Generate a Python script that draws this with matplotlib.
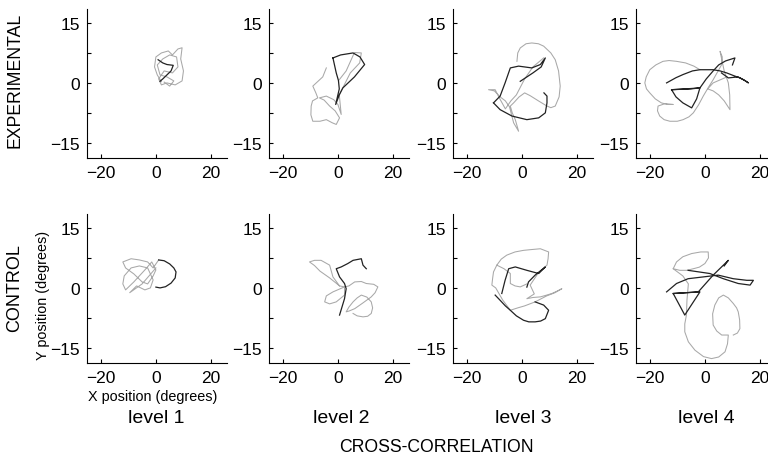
import numpy as np
import matplotlib
matplotlib.use("Agg")
import matplotlib.pyplot as plt

plt.rcParams['font.family'] = ['Liberation Sans', 'DejaVu Sans']

# eye traces (x, y in degrees)
e1_light = [(2, 0.3), (0.5, 2), (-0.5, 4), (0, 6.5), (2, 7.5), (4.5, 8), (6, 7), (8, 8.5),
            (9.5, 8.8), (9, 6), (10, 3), (9.5, 0.5), (7, -0.5), (4, 0), (2, -0.5), (1, 1),
            (3, 3), (6, 2.5), (8, 4), (7.5, 6.5), (5, 7), (2.5, 6), (0.5, 4.5), (1.5, 2),
            (4, 1.5), (6.5, 0.5), (5, -0.8), (3, 0.2)]
e1_dark = [(0.8, 5.8), (2.5, 5), (4, 4.6), (6.3, 4.4), (5.5, 3), (4, 2), (2.5, 1), (1.5, 0.4)]

e2_light = [(-4.2, 3.75), (-5.5, 1.5), (-9.1, -0.8), (-8, -2.5), (-7.3, -3.75), (-9.2, -4.5),
            (-9.7, -5.8), (-9.8, -8), (-9.1, -9.6), (-6.5, -9.6), (-4.2, -9.2), (-2, -10),
            (-0.6, -10.4), (0.6, -8.75), (-1, -7), (-3, -5.8), (-5, -4.3), (-6.7, -3.75),
            (-4.2, -3.3), (-1.5, -4.2), (0, -5.4), (1.2, -7.9), (0.5, -3), (1.8, -1.2),
            (4.5, 2.5), (7.9, 5), (8.5, 7.5), (6, 7.6), (3, 3), (0.5, 0.8)]
e2_dark = [(-1.8, 6.25), (1, 7), (5.5, 7.5), (8, 6.5), (9.7, 4.6), (6, 1.5), (1.8, -1.25),
           (0.5, -3), (-0.8, -5.4), (0.5, -1.5), (0.2, 0.6), (-0.6, 2.5), (-1.8, 6.25)]

e3_light = [(-1.8, 5.4), (-1.5, 7.5), (-0.6, 8.75), (1.5, 9.8), (3.6, 10), (6, 9.8), (7.9, 9.2),
            (10.5, 7.5), (12.1, 5.8), (13.3, 3), (13.9, -0.8), (13.5, -3.5), (12.1, -5.8),
            (10.5, -6.2), (9.1, -5.8), (6, -4.5), (3, -3.2), (1, -2.5), (-1, -3.5), (-3, -5),
            (-4.2, -5.8), (-3.5, -7.5), (-2.4, -9.2), (-1.2, -12.1), (-3, -10), (-4.5, -6),
            (-6, -4.5), (-7.9, -3.5), (-10, -2), (-12.1, -1.7), (-9.7, -1.7), (-8, -4),
            (-6, -6.5), (-4, -4.5), (-2, -3), (1, 1), (4, 4), (7.9, 6.25)]
e3_dark = [(-10.3, -5), (-7.9, -3.3), (-6.1, 0), (-4.2, 3.75), (-1.2, 4.2), (3.6, 3.75),
           (6.7, 4.6), (8.5, 6.25), (7, 4), (4, 2.5), (-0.6, 0.4)]
e3_dark2 = [(-10.3, -5), (-7.9, -6.7), (-3.6, -8.3), (1.8, -9.2), (6.1, -8.75), (8.5, -7.5),
            (9.1, -5), (9.1, -3.3), (8, -2.5)]

e4_light = [(-1.8, 3.3), (-4, 4.2), (-7, 5), (-10.3, 5.4), (-13, 5.6), (-15.2, 5.4),
            (-17.8, 4.5), (-20, 3.3), (-21.3, 1.5), (-21.8, 0), (-21.2, -1.5), (-20, -2.5),
            (-18, -4), (-15.8, -5), (-13.5, -5.4), (-11.5, -5.4), (-14.5, -5.2), (-17, -5.8),
            (-17.2, -7), (-16.4, -8.3), (-14.8, -9.2), (-12.7, -9.6), (-10, -9.6), (-7.9, -9.2),
            (-5.8, -8.5), (-4.2, -7.5), (-2.3, -5.5), (-0.6, -3.3), (1.2, -1.2), (3, 0.8),
            (4.8, 3), (6.1, 4.6), (6.3, 6.5), (5.5, 7.9), (7, 3), (8.5, 0), (9, -3),
            (9.1, -6.7), (7, -4.5), (5, -3), (3, -2), (1, -1.5), (3, 0), (8, 1.5)]
e4_dark = [(-13.9, 0), (-10.5, 1.3), (-7.9, 2.1), (-4.5, 3), (-1.8, 3.3), (3, 3.3), (5.5, 3),
           (7.9, 2.5), (10.5, 1.8), (12.7, 1.25), (14.5, 0.6), (15.8, 0), (14, 0.8), (12, 1.5),
           (8.5, 1.25), (6, 2.5)]
e4_dark2 = [(-12.1, -1.7), (-7, -1.5), (-1.8, -1.25), (-3, -4), (-4.8, -6.25), (-8, -5),
            (-10.5, -3.5), (-12.1, -1.7), (-5, -1.5), (-1.8, -1.25), (0.5, 1), (3, 3),
            (5, 4.5), (7.5, 5.5), (10.9, 6.25), (10, 4.5)]

c1_light = [(1, 7), (-1, 5), (-3, 6.5), (-6, 7), (-9, 7.3), (-12, 6.5), (-11, 5), (-8, 3.5),
            (-5, 1.5), (-3, 1), (-1, 3), (0, 4.5), (-1.5, 6.5), (-4, 4.5), (-8, 1.5),
            (-11, -0.5), (-12, 1), (-11.5, 3), (-9, 5), (-6, 5.5), (-3, 5), (-1, 2),
            (-2, 0), (-4, -0.5), (-7, 0.5), (-9.5, -1.2), (-5, 1), (0, 5)]
c1_dark = [(1, 7), (3, 6.8), (5, 6), (6.5, 5), (7.3, 4), (7, 2.5), (5.5, 1.2), (3.5, 0.3),
           (1.5, 0), (0, 0.2)]

c2_light = [(0.6, 0.5), (-1.8, 2.75), (-3, 5.7), (-6.1, 6.9), (-8.5, 6.9), (-10.3, 6.5),
            (-8.5, 5.6), (-6.5, 4.2), (-3, 2.5), (0.6, 0.5), (2.4, 0.25), (-1.8, -1),
            (-4.2, -2), (-4.8, -3.5), (-3, -4), (-0.6, -3.5), (2.4, -1.8), (2.4, 0.25),
            (4, 0.5), (6.1, 1.5), (8.5, 1.6), (10.3, 1.1), (13, 0.9), (14.5, 0.25), (13.5, -1.2),
            (12.1, -2.25), (9, -3.8), (6.1, -5.2), (4, -5.8), (3, -6), (4, -4.8), (5.5, -3.5),
            (7, -2.5), (8.5, -1.8), (10.5, -2.3), (12.1, -3.5), (12.6, -5), (12.1, -6.4),
            (10.8, -7.1), (9.1, -7.25), (7, -7), (5.5, -6.4)]
c2_dark = [(0.6, -6.8), (2.4, -2.7), (3, -0.2), (2.4, 1.1), (0.6, 2.75), (-0.6, 4.8),
           (1.2, 5.25), (3.6, 6.1), (5.5, 6.9), (8.5, 7.3), (9.1, 5.7), (10.3, 4.8)]

c3_light = [(-9.1, 5.7), (-7.5, 7.2), (-5.5, 8.2), (-2.5, 9), (0.6, 9.4), (3.5, 9.6),
            (6.7, 9.8), (9.7, 9), (9.5, 7.3), (9.1, 5.7), (6, 3.8), (3, 0.7), (4.5, -1.5),
            (1.8, -2.7), (4, -2.4), (6.7, -2.25), (9, -1.8), (10.9, -1.4), (12.8, -0.8),
            (14.5, -0.2), (12, -1.2), (9, -2), (4.8, -3.5), (1, -4.5), (-1.5, -5),
            (-4.2, -5.6), (-7, -3), (-9.5, 0), (-10.9, 0.7), (-10.6, 2.5), (-10.3, 4),
            (-9.1, 5.7), (-6.5, 4.8), (-4.2, 3.6), (-4.2, 1.1), (-2.5, 0.5), (-0.6, 0.25),
            (1.8, 1)]
c3_dark = [(-7.3, -1.4), (-6.1, 1.9), (-4.8, 4.8), (-2.4, 5.25), (1.8, 4.4), (6.1, 3.6),
           (8.5, 5.25), (4.8, 3.2), (2.4, 1.5), (1.8, 0.2)]
c3_dark2 = [(-9.7, -1.8), (-7.9, -3.1), (-6, -4.5), (-4.2, -5.6), (-2, -7), (0.6, -8.1),
            (2.5, -8.5), (4.8, -8.5), (6.8, -8.3), (8.5, -7.7), (9.7, -5.6), (7.9, -4.3),
            (4.8, -3.5)]

c4_light = [(-11.5, 4.8), (-10.3, 6.5), (-8, 7.8), (-4.8, 8.6), (-1.5, 9), (1.2, 9),
            (1.3, 7.5), (0, 6.1), (-2, 5.2), (-4.2, 4.8), (-6.5, 4.4), (-9.1, 4.4),
            (-11.5, 4.8), (-8, 3), (-6, 1), (-6.5, -3), (-6.7, -6.8), (-7.3, -9), (-7.3, -11),
            (-6, -13.5), (-3.6, -15.6), (-0.5, -17.2), (2.4, -17.7), (5, -17.3), (7.3, -16),
            (8.2, -14), (8.5, -11.8), (7.3, -11.8), (6.1, -11.8), (4.3, -10.8), (3, -9.3),
            (2.8, -6.5), (3.6, -4.3), (5, -2.5), (6.7, -1.8), (8.5, -2.5), (10.3, -3.9),
            (11.5, -5), (12.1, -6), (12.6, -8), (12.7, -10.2), (11.8, -11.3), (10.3, -11.8)]
c4_dark = [(-13.9, -1), (-10.3, 1.1), (-6.1, 2.3), (-0.6, 2.75), (4.8, 3.2), (10.3, 2.3),
           (15.2, 1.9), (17.6, 1.9), (16.4, 0.7), (12.1, 1.1), (6.7, 2.3), (1.8, 3.6),
           (-6.1, 4.4)]
c4_dark2 = [(-11.5, -1.4), (-1.8, -1), (-7.3, -6.8), (-11.5, -1.4), (-2.4, -1), (3, 3.2),
            (8.5, 6.9), (7, 5.5)]

levels = ['level 1', 'level 2', 'level 3', 'level 4']
xticks = [-20, 0, 20]
yticks = [-15, 0, 15]
yticks_minor = [-7.5, 7.5]

rows = [
    [(e1_light, [e1_dark]), (e2_light, [e2_dark]), (e3_light, [e3_dark, e3_dark2]),
     (e4_light, [e4_dark, e4_dark2])],
    [(c1_light, [c1_dark]), (c2_light, [c2_dark]), (c3_light, [c3_dark, c3_dark2]),
     (c4_light, [c4_dark, c4_dark2])],
]

W, H = 768, 456
fig = plt.figure(figsize=(W / 100, H / 100), dpi=100)

lefts = [87, 269, 453, 636]
tops = [10, 215]
aw, ah = 140, 149

for r, row in enumerate(rows):
    for c, (light, darks) in enumerate(row):
        ax = fig.add_axes([lefts[c] / W, 1 - (tops[r] + ah) / H, aw / W, ah / H])
        lx, ly = zip(*light)
        ax.plot(lx, ly, color='#a8a8a8', lw=0.75, solid_joinstyle='round')
        for d in darks:
            dx, dy = zip(*d)
            ax.plot(dx, dy, color='#222222', lw=0.9, solid_joinstyle='round')
        ax.set_xlim(-25, 25.8)
        ax.set_ylim(-18.8, 18.5)
        ax.set_xticks(xticks)
        ax.set_yticks(yticks)
        ax.set_yticks(yticks_minor, minor=True)
        ax.spines['top'].set_visible(False)
        ax.spines['right'].set_visible(False)
        ax.tick_params(direction='in', length=3, width=0.8, labelsize=12.5, pad=5)
        ax.tick_params(which='minor', direction='in', length=3, width=0.8)

fig.text(15 / W, 1 - 80 / H, 'EXPERIMENTAL', rotation=90, ha='center', va='center', fontsize=12.7)
fig.text(15 / W, 1 - 288 / H, 'CONTROL', rotation=90, ha='center', va='center', fontsize=13)
fig.text(43 / W, 1 - 295 / H, 'Y position (degrees)', rotation=90, ha='center', va='center',
         fontsize=10.4)
fig.text(153 / W, 1 - 397 / H, 'X position (degrees)', ha='center', va='center', fontsize=10.4)
for x, lab in zip([156, 341, 523, 706], levels):
    fig.text(x / W, 1 - 419 / H, lab, ha='center', va='center', fontsize=14)
fig.text(436 / W, 1 - 448 / H, 'CROSS-CORRELATION', ha='center', va='center', fontsize=12.7)

fig.savefig('out.png', dpi=100)
